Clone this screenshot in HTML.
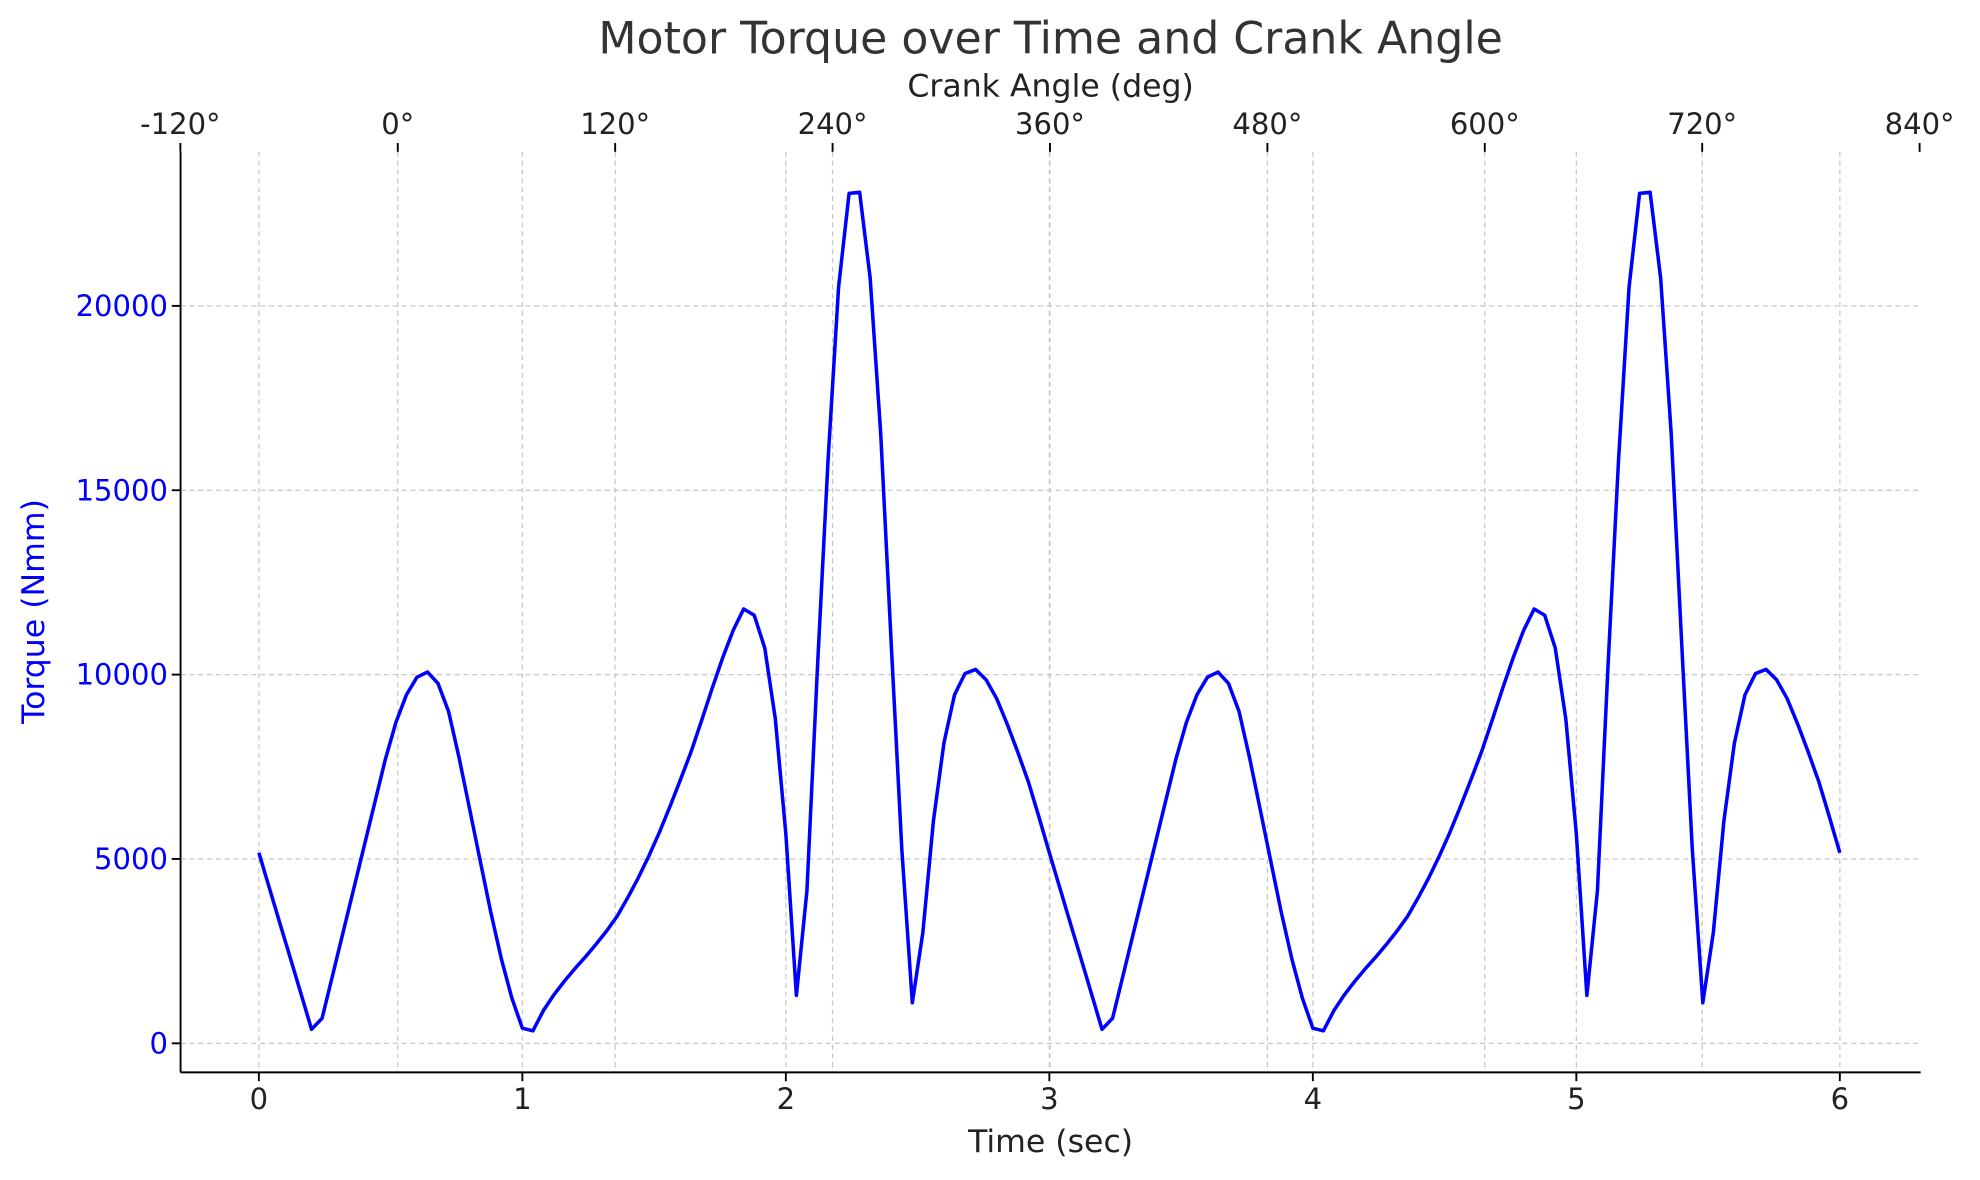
<!DOCTYPE html>
<html><head><meta charset="utf-8"><style>
html,body{margin:0;padding:0;background:#fff;}
svg{display:block;font-family:"DejaVu Sans","Liberation Sans",sans-serif;}
</style></head><body>
<svg id="chart" width="1980" height="1180" viewBox="0 0 1568 934" xmlns="http://www.w3.org/2000/svg"></svg>
<script>
const torqueValues = [5170,4210,3250,2300,1340,380,680,1850,3020,4190,5360,6530,7700,8700,9450,9930,10070,9760,9000,7740,6350,4950,3560,2300,1230,
410,340,890,1320,1690,2030,2350,2690,3050,3450,3950,4490,5080,5720,6420,7150,7900,8750,9620,10450,11200,11780,11610,10720,8800,
5680,1300,4140,10200,15800,20500,23050,23080,20750,16540,10820,5270,1100,3010,6030,8150,9450,10030,10140,9860,9350,8660,7900,7100,6150,
5170,4210,3250,2300,1340,380,680,1850,3020,4190,5360,6530,7700,8700,9450,9930,10070,9760,9000,7740,6350,4950,3560,2300,1230,
410,340,890,1320,1690,2030,2350,2690,3050,3450,3950,4490,5080,5720,6420,7150,7900,8750,9620,10450,11200,11780,11610,10720,8800,
5680,1300,4140,10200,15800,20500,23050,23080,20750,16540,10820,5270,1100,3010,6030,8150,9450,10030,10140,9860,9350,8660,7900,7100,6150,5170];
const timeStep = 0.04;
const xTicks = [0,1,2,3,4,5,6];
const yTicks = [0,5000,10000,15000,20000];
const angleTicks = [-120,0,120,240,360,480,600,720,840];

const NS="http://www.w3.org/2000/svg";
const svg=document.getElementById('chart');
const L=143,R=1521,T=120,B=849;
const xs=t=>205+t*(1457-205)/6;
const ys=v=>826-v*(826-242)/20000;
const xa=a=>315+a*(1348-315)/720;
function mk(tag,attrs,parent){const e=document.createElementNS(NS,tag);for(const k in attrs)e.setAttribute(k,attrs[k]);(parent||svg).appendChild(e);return e;}
function txt(s,attrs){const e=mk('text',attrs);e.textContent=s;return e;}
const grid={stroke:'#c8c8c8','stroke-width':1,'stroke-dasharray':'4,3'};
xTicks.forEach(t=>{
  const g=mk('line',Object.assign({x1:xs(t),x2:xs(t),y1:T,y2:B},grid));
  
  
  const tk=mk('line',{x1:xs(t),x2:xs(t),y1:B,y2:B+7,stroke:'#000','stroke-width':1.5});
  
  
  const l=txt(String(t),{x:xs(t),y:B+29,'text-anchor':'middle','font-size':23,fill:'#222'});
  
  
});
yTicks.forEach(v=>{
  const g=mk('line',Object.assign({x1:L,x2:R,y1:ys(v),y2:ys(v)},grid));
  
  
  const tk=mk('line',{x1:L-7,x2:L,y1:ys(v),y2:ys(v),stroke:'#000','stroke-width':1.5});
  
  
  const l=txt(String(v),{x:L-10,y:ys(v)+8,'text-anchor':'end','font-size':23,fill:'#0000ff'});
  
  
});
angleTicks.forEach(a=>{
  const x=xa(a);
  if(x>L+2&&x<R-2){const g=mk('line',Object.assign({x1:x,x2:x,y1:T,y2:B},grid));
  
  }
  const tk=mk('line',{x1:x,x2:x,y1:T-7,y2:T,stroke:'#000','stroke-width':1.5});
  
  
  const l=txt(a+'°',{x:x,y:T-14,'text-anchor':'middle','font-size':23,fill:'#222'});
  
  
});
const lx=mk('line',{x1:L,x2:L,y1:T,y2:B,stroke:'#000','stroke-width':1.5});


const bx=mk('line',{x1:L,x2:R,y1:B,y2:B,stroke:'#000','stroke-width':1.5});


const pts=torqueValues.map((v,i)=>xs(i*timeStep).toFixed(2)+','+ys(v).toFixed(2)).join(' ');
const line=mk('polyline',{points:pts,fill:'none',stroke:'#0000ff','stroke-width':2.8,'stroke-linejoin':'round'});


const ti=txt('Motor Torque over Time and Crank Angle',{x:832,y:42,'text-anchor':'middle','font-size':35,fill:'#333'});


const ta=txt('Crank Angle (deg)',{x:832,y:76,'text-anchor':'middle','font-size':25,fill:'#222'});


const xt=txt('Time (sec)',{x:832,y:912,'text-anchor':'middle','font-size':25,fill:'#222'});


const yt=txt('Torque (Nmm)',{x:0,y:0,'text-anchor':'middle','font-size':25,fill:'#0000ff',transform:'translate(35,484) rotate(-90)'});


</script>
</body></html>
